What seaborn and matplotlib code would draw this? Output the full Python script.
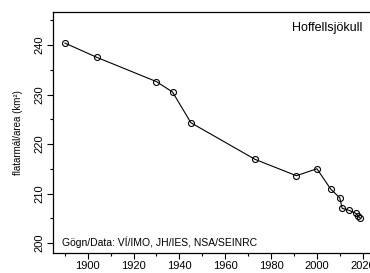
import matplotlib
matplotlib.use("Agg")
import matplotlib.pyplot as plt
import seaborn as sns
import pandas as pd
from matplotlib.ticker import MultipleLocator

years = [1890, 1904, 1930, 1937, 1945, 1973, 1991, 2000, 2006, 2010, 2011, 2014, 2017, 2018, 2019]
area = [240.4, 237.5, 232.6, 230.5, 224.3, 216.9, 213.6, 215.0, 210.9, 209.1, 207.0, 206.6, 206.0, 205.4, 205.0]
title = "Hoffellsjökull"
ylabel = "flatarmál/area (km²)"
source = "Gögn/Data: VÍ/IMO, JH/IES, NSA/SEINRC"

df = pd.DataFrame({"year": years, "area": area})

sns.set_style("ticks")
plt.rcParams["font.family"] = ["Liberation Sans", "DejaVu Sans"]
plt.rcParams["text.color"] = "black"
plt.rcParams["axes.labelcolor"] = "black"
plt.rcParams["xtick.color"] = "black"
plt.rcParams["ytick.color"] = "black"

fig = plt.figure(figsize=(3.70, 2.73), dpi=100)
ax = fig.add_axes([53/370, 20/273, (372.3-53)/370, 241/273])

sns.lineplot(data=df, x="year", y="area", ax=ax, color="black", linewidth=0.8,
             marker="o", markersize=4.3, markerfacecolor="none",
             markeredgecolor="black", markeredgewidth=0.8)

ax.set_xlim(1884.84, 2024.16)
ax.set_ylim(197.98, 246.67)
ax.xaxis.set_major_locator(MultipleLocator(20))
ax.xaxis.set_minor_locator(MultipleLocator(10))
ax.yaxis.set_major_locator(MultipleLocator(10))
ax.yaxis.set_minor_locator(MultipleLocator(5))
ax.tick_params(which="major", direction="out", length=4, width=0.8, color="black",
               labelsize=8, pad=2, labelcolor="black")
ax.tick_params(which="minor", direction="out", length=2.5, width=0.8, color="black")
for lab in ax.get_yticklabels():
    lab.set_rotation(90)
    lab.set_va("center")
for s in ax.spines.values():
    s.set_linewidth(0.9)
    s.set_color("black")

ax.set_xlabel("")
ax.set_ylabel(ylabel, fontsize=7, color="black")
ax.yaxis.set_label_coords(-0.095, 0.5)

fig.text(362/370, 1 - 28/273, title, ha="right", va="center", fontsize=9, color="black")
fig.text(62/370, 1 - 242/273, source, ha="left", va="center", fontsize=7.5, color="black")

fig.savefig("out.png", dpi=100)
